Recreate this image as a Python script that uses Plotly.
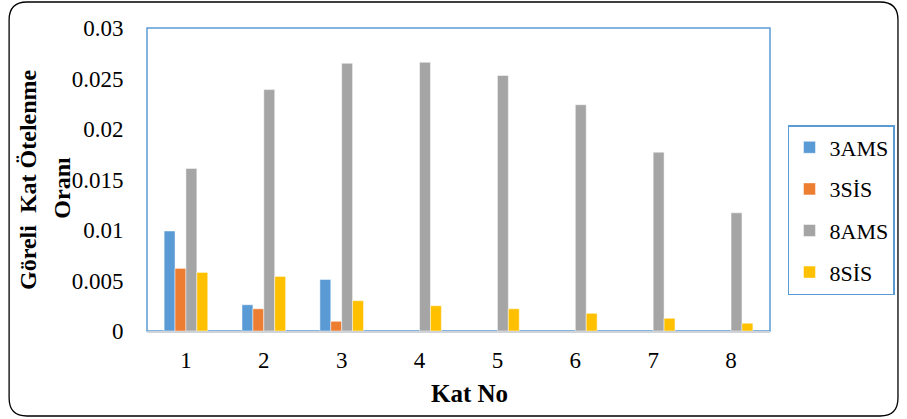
import plotly.graph_objects as go

categories = ["1", "2", "3", "4", "5", "6", "7", "8"]
s_3ams = [0.0099, 0.0026, 0.0051, None, None, None, None, None]
s_3sis = [0.0062, 0.0022, 0.00096, None, None, None, None, None]
s_8ams = [0.0161, 0.0239, 0.0265, 0.0266, 0.0253, 0.0224, 0.0177, 0.0117]
s_8sis = [0.0058, 0.0054, 0.0030, 0.0025, 0.0022, 0.00175, 0.00126, 0.00077]
series_names = ["3AMS", "3SİS", "8AMS", "8SİS"]
colors = ["#5b9bd5", "#ed7d31", "#a5a5a5", "#ffc000"]
y_ticks = [0, 0.005, 0.01, 0.015, 0.02, 0.025, 0.03]
y_tick_text = ["0", "0.005", "0.01", "0.015", "0.02", "0.025", "0.03"]

W, H = 907, 419
L, R, T, B = 147, 775, 28, 331  # plot area in pixels
SERIF = "Liberation Serif, Times New Roman, serif"

fig = go.Figure()
for name, vals, col in zip(series_names, [s_3ams, s_3sis, s_8ams, s_8sis], colors):
    fig.add_trace(go.Bar(
        x=categories, y=vals, name=name, legendgroup=name,
        marker=dict(color=col, line=dict(color="rgba(255,255,255,0.6)", width=0.8)),
    ))

def px(x):
    return (x - L) / (R - L)

def py(y):
    return (B - y) / (B - T)

# outer rounded border (in paper coords)
x0, x1, y0, y1, r = 8, 904, 2, 416, 18
rx = r / (R - L)
ry = r / (B - T)
X0, X1, Y0, Y1 = px(x0), px(x1), py(y1), py(y0)
path = (f"M {X0+rx},{Y1} L {X1-rx},{Y1} Q {X1},{Y1} {X1},{Y1-ry} "
        f"L {X1},{Y0+ry} Q {X1},{Y0} {X1-rx},{Y0} L {X0+rx},{Y0} "
        f"Q {X0},{Y0} {X0},{Y0+ry} L {X0},{Y1-ry} Q {X0},{Y1} {X0+rx},{Y1} Z")

fig.update_layout(
    width=W, height=H,
    margin=dict(l=L, r=W - R, t=T, b=H - B),
    paper_bgcolor="white", plot_bgcolor="white",
    barmode="group", bargap=0.44, bargroupgap=0,
    font=dict(family=SERIF, color="black", size=23),
    shapes=[
        dict(type="path", path=path, xref="paper", yref="paper",
             line=dict(color="black", width=1.3), layer="below"),
        dict(type="rect", xref="paper", yref="paper", x0=0, x1=1, y0=0, y1=1,
             line=dict(color="#5b9bd5", width=1.5), layer="below"),
    ],
    annotations=[
        dict(text="<b>Göreli  Kat Ötelenme</b>", xref="paper", yref="paper",
             x=px(27), y=py(179), textangle=-90, showarrow=False,
             xanchor="center", yanchor="middle", font=dict(size=24, family=SERIF)),
        dict(text="<b>Oranı</b>", xref="paper", yref="paper",
             x=px(61), y=py(188), textangle=-90, showarrow=False,
             xanchor="center", yanchor="middle", font=dict(size=24, family=SERIF)),
        dict(text="<b>Kat No</b>", xref="paper", yref="paper",
             x=px(472), y=py(393), showarrow=False,
             xanchor="center", yanchor="middle", font=dict(size=25, family=SERIF)),
    ],
    legend=dict(
        x=px(901), y=py(125), xanchor="right", yanchor="top",
        bordercolor="#5b9bd5", borderwidth=1.5,
        font=dict(size=22, family=SERIF),
        tracegroupgap=10, traceorder="grouped",
        itemwidth=30,
    ),
    xaxis=dict(
        showgrid=False, showline=True, linecolor="#d0d4d8", linewidth=2,
        ticks="outside", ticklen=7, tickcolor="rgba(0,0,0,0)",
        tickfont=dict(size=23),
    ),
    yaxis=dict(
        range=[0, 0.03], tickvals=y_ticks, ticktext=y_tick_text,
        showgrid=False, zeroline=False, showline=False,
        ticks="outside", ticklen=18, tickcolor="rgba(0,0,0,0)",
        tickfont=dict(size=23),
    ),
)

fig.write_html("out.html", config={"displayModeBar": False},
               post_script="document.body.style.margin='0';")
